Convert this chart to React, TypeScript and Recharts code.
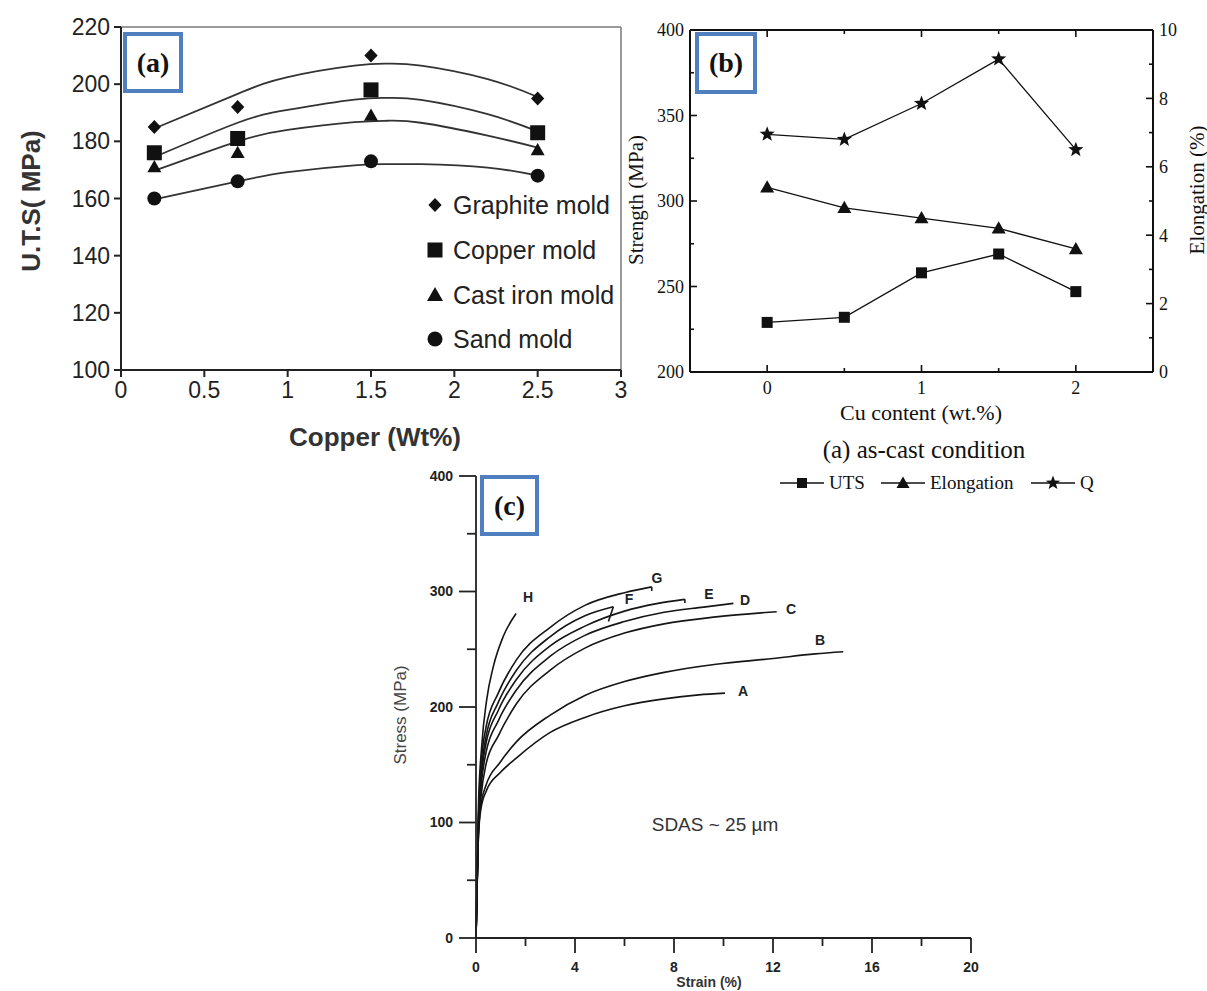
import React from 'react';
import { ComposedChart, LineChart, Line, Scatter, XAxis, YAxis, ReferenceLine } from 'recharts';

// (a) U.T.S vs copper content for four mold types
const moldCu = [0.2, 0.7, 1.5, 2.5];
const graphiteUts = [185, 192, 210, 195];
const copperUts = [176, 181, 198, 183];
const castIronUts = [171, 176, 189, 177];
const sandUts = [160, 166, 173, 168];

// trend curves, read along the drawn fits
const fitCu = [0.2, 0.7, 1.0, 1.4, 1.6, 1.8, 2.2, 2.5];
const graphiteFit = [184.5, 196.6, 202.5, 206.5, 207.2, 206.5, 201.8, 195.5];
const copperFit = [174.5, 186.5, 191, 194.6, 195.2, 194.5, 189.5, 183.5];
const castIronFit = [169.7, 180, 184, 186.7, 187.2, 186.5, 182, 177.8];
const sandFit = [159.7, 166, 169.2, 171.6, 172, 172, 170.8, 168];

const utsTicks = [100, 120, 140, 160, 180, 200, 220];
const copperTicks = [0, 0.5, 1, 1.5, 2, 2.5, 3];

// (b) as-cast condition
const cuContent = [0, 0.5, 1, 1.5, 2];
const utsMpa = [229, 232, 258, 269, 247];
const elongationPct = [5.4, 4.8, 4.5, 4.2, 3.6];
const qMpa = [339, 336, 357, 383, 330];

const strengthTicks = [200, 225, 250, 275, 300, 325, 350, 375, 400];
const elongTicks = [0, 1, 2, 3, 4, 5, 6, 7, 8, 9, 10];
const cuTicks = [0, 0.5, 1, 1.5, 2];

// (c) stress-strain curves, [strain %, stress MPa]
const curveA: number[][] = [[0, 0], [0.1, 88], [0.2, 112], [0.43, 128], [0.97, 143], [1.64, 156], [3.0, 178], [4.4, 191], [6.0, 201], [7.6, 207], [9.0, 210.5], [10.06, 212]];
const curveB: number[][] = [[0, 0], [0.1, 90], [0.2, 115], [0.4, 132], [0.97, 152], [1.64, 170], [3.0, 193], [4.4, 210], [6.0, 222], [7.6, 230], [9.7, 237], [12.0, 242], [13.7, 246], [14.84, 247.8]];
const curveC: number[][] = [[0, 0], [0.1, 95], [0.2, 122], [0.4, 150], [0.9, 175], [1.64, 203], [3.0, 232], [4.4, 251], [6.0, 264], [7.6, 272], [9.7, 278], [12.15, 282.5]];
const curveD: number[][] = [[0, 0], [0.1, 98], [0.2, 130], [0.4, 160], [0.9, 188], [1.64, 215], [3.0, 244], [4.4, 262], [6.0, 274], [7.6, 282], [9.2, 286.5], [10.4, 289.7]];
const curveE: number[][] = [[0, 0], [0.1, 100], [0.2, 135], [0.4, 168], [0.9, 197], [1.64, 224], [3.0, 253], [4.4, 270], [6.0, 283], [7.3, 289.5], [8.44, 293.2]];
const curveF: number[][] = [[0, 0], [0.1, 102], [0.2, 140], [0.4, 174], [0.9, 204], [1.64, 232], [3.0, 261], [4.4, 279], [5.55, 286.8]];
const curveG: number[][] = [[0, 0], [0.1, 105], [0.2, 148], [0.4, 182], [0.9, 212], [1.64, 241], [3.0, 269], [4.4, 288], [6.0, 299], [7.1, 304]];
const curveH: number[][] = [[0, 0], [0.1, 115], [0.23, 166], [0.43, 206], [0.7, 235], [1.1, 261], [1.62, 281]];
// fracture drops at the ends of E, F, G
const dropE: number[][] = [[8.44, 293.2], [8.44, 290]];
const dropF: number[][] = [[5.55, 286.8], [5.35, 274]];
const dropG: number[][] = [[7.1, 304], [7.1, 300.5]];

const stressTicks = [0, 50, 100, 150, 200, 250, 300, 350, 400];
const strainTicks = [0, 2, 4, 6, 8, 10, 12, 14, 16, 18, 20];

const SANS = '"Liberation Sans", Arial, Helvetica, sans-serif';
const SERIF = '"Liberation Serif", "Times New Roman", Times, serif';
const BOX_BLUE = '#4f7fbf';

const pairs = (xs: number[], ys: number[]) => xs.map((x, i) => ({ x, y: ys[i] }));
const fromPts = (pts: number[][]) => pts.map(([x, y]) => ({ x, y }));

type Mark = 'diamond' | 'square' | 'triangle' | 'circle' | 'star';

function marker(kind: Mark, cx: number, cy: number, s: number, fill = '#111') {
  const h = s / 2;
  if (kind === 'diamond')
    return <polygon points={`${cx},${cy - h} ${cx + h * 0.95},${cy} ${cx},${cy + h} ${cx - h * 0.95},${cy}`} fill={fill} />;
  if (kind === 'square') return <rect x={cx - h} y={cy - h} width={s} height={s} fill={fill} />;
  if (kind === 'triangle')
    return <polygon points={`${cx},${cy - h} ${cx + h},${cy + h * 0.75} ${cx - h},${cy + h * 0.75}`} fill={fill} />;
  if (kind === 'circle') return <circle cx={cx} cy={cy} r={h} fill={fill} />;
  const p: string[] = [];
  for (let i = 0; i < 10; i++) {
    const r = i % 2 ? h * 0.42 : h;
    const a = -Math.PI / 2 + (i * Math.PI) / 5;
    p.push(`${cx + r * Math.cos(a)},${cy + r * Math.sin(a)}`);
  }
  return <polygon points={p.join(' ')} fill={fill} />;
}

type TickOpts = {
  side: 'left' | 'right' | 'bottom' | 'top';
  inward?: boolean;
  isMajor: (v: number) => boolean;
  majorLen: number;
  minorLen: number;
  gap: number;
  font: string;
  size: number;
  weight?: string;
  color: string;
  stroke: string;
  strokeWidth: number;
  noLabels?: boolean;
};

// ticks are drawn by hand (tickSize/tickMargin 0) so they can point inward and have minor ticks
const makeTick = (o: TickOpts) => (props: any) => {
  const { x, y, payload } = props;
  const v = payload.value as number;
  const major = o.isMajor(v);
  const len = major ? o.majorLen : o.minorLen;
  const dir = o.inward ? -1 : 1;
  const outer = o.inward ? 0 : len;
  const showLabel = major && !o.noLabels;
  const tp = { fontFamily: o.font, fontSize: o.size, fontWeight: o.weight || 'normal', fill: o.color };
  const ln = { stroke: o.stroke, strokeWidth: o.strokeWidth };
  if (o.side === 'left')
    return (
      <g>
        <line x1={x} y1={y} x2={x - dir * len} y2={y} {...ln} />
        {showLabel && <text x={x - outer - o.gap} y={y} dy="0.35em" textAnchor="end" {...tp}>{v}</text>}
      </g>
    );
  if (o.side === 'right')
    return (
      <g>
        <line x1={x} y1={y} x2={x + dir * len} y2={y} {...ln} />
        {showLabel && <text x={x + outer + o.gap} y={y} dy="0.35em" textAnchor="start" {...tp}>{v}</text>}
      </g>
    );
  if (o.side === 'top')
    return (
      <g>
        <line x1={x} y1={y} x2={x} y2={y - dir * len} {...ln} />
      </g>
    );
  return (
    <g>
      <line x1={x} y1={y} x2={x} y2={y + dir * len} {...ln} />
      {showLabel && <text x={x} y={y + outer + o.gap} dy="0.71em" textAnchor="middle" {...tp}>{v}</text>}
    </g>
  );
};

const Txt = ({ x, y, rot, style, children }: { x: number; y: number; rot?: number; style?: React.CSSProperties; children: React.ReactNode }) => (
  <div
    style={{
      position: 'absolute',
      left: x,
      top: y,
      transform: `translate(-50%, -50%)${rot ? ` rotate(${rot}deg)` : ''}`,
      whiteSpace: 'nowrap',
      lineHeight: 1,
      ...style,
    }}
  >
    {children}
  </div>
);

const PanelTag = ({ left, top, w, h, label }: { left: number; top: number; w: number; h: number; label: string }) => (
  <div
    style={{
      position: 'absolute',
      left,
      top,
      width: w,
      height: h,
      boxSizing: 'border-box',
      border: `4px solid ${BOX_BLUE}`,
      display: 'flex',
      alignItems: 'center',
      justifyContent: 'center',
      fontFamily: SERIF,
      fontWeight: 'bold',
      fontSize: 28,
      color: '#111',
      background: '#fff',
    }}
  >
    {label}
  </div>
);

const isInt = (v: number) => Math.abs(v - Math.round(v)) < 1e-9;

const PanelA = () => {
  const fits = [graphiteFit, copperFit, castIronFit, sandFit];
  const pts: [number[], Mark, number][] = [
    [graphiteUts, 'diamond', 14],
    [copperUts, 'square', 15],
    [castIronUts, 'triangle', 14],
    [sandUts, 'circle', 14],
  ];
  const common = { font: SANS, size: 23, color: '#222', stroke: '#222', strokeWidth: 2, isMajor: () => true };
  return (
    <div style={{ position: 'absolute', left: 0, top: 0 }}>
      <ComposedChart width={640} height={470} margin={{ top: 27, right: 19, bottom: 0, left: 0 }}>
        <XAxis
          dataKey="x"
          type="number"
          domain={[0, 3]}
          ticks={copperTicks}
          interval={0}
          height={100}
          tickSize={0}
          tickMargin={0}
          tickLine={false}
          axisLine={{ stroke: '#222', strokeWidth: 2 }}
          tick={makeTick({ ...common, side: 'bottom', majorLen: 7, minorLen: 7, gap: 5 })}
        />
        <YAxis
          dataKey="y"
          type="number"
          domain={[100, 220]}
          ticks={utsTicks}
          interval={0}
          width={121}
          tickSize={0}
          tickMargin={0}
          tickLine={false}
          axisLine={{ stroke: '#222', strokeWidth: 2 }}
          tick={makeTick({ ...common, side: 'left', majorLen: 7, minorLen: 7, gap: 4 })}
        />
        {/* grey frame on top and right */}
        <ReferenceLine y={220} stroke="#9a9a9a" strokeWidth={2} />
        <ReferenceLine x={3} stroke="#9a9a9a" strokeWidth={2} />
        {fits.map((f, i) => (
          <Line key={`fit${i}`} data={pairs(fitCu, f)} dataKey="y" type="natural" stroke="#333" strokeWidth={1.8} dot={false} isAnimationActive={false} />
        ))}
        {pts.map(([vals, kind, s], i) => (
          <Scatter
            key={`pt${i}`}
            data={pairs(moldCu, vals)}
            dataKey="y"
            isAnimationActive={false}
            shape={(p: any) => marker(kind, p.cx, p.cy, s)}
          />
        ))}
      </ComposedChart>
    </div>
  );
};

const PanelB = () => {
  const rows = cuContent.map((x, i) => ({ x, uts: utsMpa[i], el: elongationPct[i], q: qMpa[i] }));
  const common = { font: SERIF, size: 18, color: '#111', stroke: '#111', strokeWidth: 1.6, majorLen: 7, minorLen: 4, inward: true };
  const dot = (kind: Mark, s: number) => (p: any) => <g key={`${kind}${p.index}`}>{marker(kind, p.cx, p.cy, s)}</g>;
  return (
    <div style={{ position: 'absolute', left: 620, top: 0 }}>
      <LineChart width={587} height={420} data={rows} margin={{ top: 29, right: 0, bottom: 0, left: 0 }}>
        <XAxis
          dataKey="x"
          type="number"
          domain={[-0.5, 2.5]}
          ticks={cuTicks}
          interval={0}
          height={48}
          tickSize={0}
          tickMargin={0}
          tickLine={false}
          axisLine={{ stroke: '#111', strokeWidth: 2 }}
          tick={makeTick({ ...common, side: 'bottom', isMajor: isInt, gap: 9 })}
        />
        <XAxis
          xAxisId="top"
          orientation="top"
          dataKey="x"
          type="number"
          domain={[-0.5, 2.5]}
          ticks={cuTicks}
          interval={0}
          height={1}
          tickSize={0}
          tickMargin={0}
          tickLine={false}
          axisLine={{ stroke: '#111', strokeWidth: 2 }}
          tick={makeTick({ ...common, side: 'top', isMajor: isInt, gap: 0, noLabels: true })}
        />
        <YAxis
          yAxisId="s"
          type="number"
          domain={[200, 400]}
          ticks={strengthTicks}
          interval={0}
          width={70}
          tickSize={0}
          tickMargin={0}
          tickLine={false}
          axisLine={{ stroke: '#111', strokeWidth: 2 }}
          tick={makeTick({ ...common, side: 'left', isMajor: (v) => v % 50 === 0, gap: 6 })}
        />
        <YAxis
          yAxisId="e"
          orientation="right"
          type="number"
          domain={[0, 10]}
          ticks={elongTicks}
          interval={0}
          width={54}
          tickSize={0}
          tickMargin={0}
          tickLine={false}
          axisLine={{ stroke: '#111', strokeWidth: 2 }}
          tick={makeTick({ ...common, side: 'right', isMajor: (v) => v % 2 === 0, gap: 6 })}
        />
        <ReferenceLine yAxisId="s" y={400} stroke="#111" strokeWidth={2} />
        {/* carries the top frame axis; draws nothing */}
        <Line xAxisId="top" yAxisId="s" dataKey="uts" stroke="none" dot={false} activeDot={false} isAnimationActive={false} />
        <Line yAxisId="s" dataKey="uts" type="linear" stroke="#111" strokeWidth={1.3} dot={dot('square', 11)} isAnimationActive={false} />
        <Line yAxisId="e" dataKey="el" type="linear" stroke="#111" strokeWidth={1.3} dot={dot('triangle', 14)} isAnimationActive={false} />
        <Line yAxisId="s" dataKey="q" type="linear" stroke="#111" strokeWidth={1.3} dot={dot('star', 16)} isAnimationActive={false} />
      </LineChart>
    </div>
  );
};

const LegendItemB = ({ left, kind, s, label }: { left: number; kind: Mark; s: number; label: string }) => (
  <div style={{ position: 'absolute', left, top: 473, height: 20, display: 'flex', alignItems: 'center' }}>
    <svg width={46} height={20}>
      <line x1={1} y1={10} x2={45} y2={10} stroke="#111" strokeWidth={1.3} />
      {marker(kind, 23, 10, s)}
    </svg>
    <span style={{ fontFamily: SERIF, fontSize: 19, color: '#111', marginLeft: 4 }}>{label}</span>
  </div>
);

const LegendItemA = ({ top, kind, s, label }: { top: number; kind: Mark; s: number; label: string }) => (
  <div style={{ position: 'absolute', left: 425, top: top - 15, height: 30, display: 'flex', alignItems: 'center' }}>
    <svg width={20} height={30}>{marker(kind, 10, 15, s)}</svg>
    <span style={{ fontFamily: SANS, fontSize: 25, color: '#222', marginLeft: 8 }}>{label}</span>
  </div>
);

const PanelC = () => {
  const curves = [curveA, curveB, curveC, curveD, curveE, curveF, curveG, curveH];
  const drops = [dropE, dropF, dropG];
  const common = { font: SANS, size: 14, weight: 'bold', color: '#222', stroke: '#222', strokeWidth: 1.8 };
  return (
    <div style={{ position: 'absolute', left: 380, top: 460 }}>
      <LineChart width={620} height={531} margin={{ top: 16, right: 29, bottom: 0, left: 0 }}>
        <XAxis
          dataKey="x"
          type="number"
          domain={[0, 20]}
          ticks={strainTicks}
          interval={0}
          height={53}
          tickSize={0}
          tickMargin={0}
          tickLine={false}
          axisLine={{ stroke: '#222', strokeWidth: 1.8 }}
          tick={makeTick({ ...common, side: 'bottom', isMajor: (v) => v % 4 === 0, majorLen: 15, minorLen: 8, gap: 9 })}
        />
        <YAxis
          dataKey="y"
          type="number"
          domain={[0, 400]}
          ticks={stressTicks}
          interval={0}
          width={96}
          tickSize={0}
          tickMargin={0}
          tickLine={false}
          axisLine={{ stroke: '#222', strokeWidth: 1.8 }}
          tick={makeTick({ ...common, side: 'left', isMajor: (v) => v % 100 === 0, majorLen: 17, minorLen: 9, gap: 6 })}
        />
        {curves.map((c, i) => (
          <Line key={`c${i}`} data={fromPts(c)} dataKey="y" type="monotone" stroke="#151515" strokeWidth={1.6} dot={false} isAnimationActive={false} />
        ))}
        {drops.map((c, i) => (
          <Line key={`d${i}`} data={fromPts(c)} dataKey="y" type="linear" stroke="#151515" strokeWidth={1.6} dot={false} isAnimationActive={false} />
        ))}
      </LineChart>
    </div>
  );
};

const curveLetter: React.CSSProperties = { fontFamily: SANS, fontWeight: 'bold', fontSize: 14, color: '#222' };

export default function App() {
  return (
    <div style={{ position: 'absolute', left: 0, top: 0, width: 1207, height: 991, background: '#fff', overflow: 'hidden' }}>
      <PanelA />
      <PanelB />
      <PanelC />

      {/* (a) titles and legend */}
      <Txt x={31} y={201} rot={-90} style={{ fontFamily: SANS, fontWeight: 'bold', fontSize: 26, color: '#333' }}>U.T.S( MPa)</Txt>
      <Txt x={375} y={437} style={{ fontFamily: SANS, fontWeight: 'bold', fontSize: 26, color: '#333' }}>Copper (Wt%)</Txt>
      <LegendItemA top={205} kind="diamond" s={14} label="Graphite mold" />
      <LegendItemA top={250} kind="square" s={15} label="Copper mold" />
      <LegendItemA top={295} kind="triangle" s={16} label="Cast iron mold" />
      <LegendItemA top={339} kind="circle" s={15} label="Sand mold" />
      <PanelTag left={123} top={32} w={60} h={61} label="(a)" />

      {/* (b) titles and legend */}
      <Txt x={636} y={200} rot={-90} style={{ fontFamily: SERIF, fontSize: 21, color: '#111' }}>Strength (MPa)</Txt>
      <Txt x={1197} y={190} rot={-90} style={{ fontFamily: SERIF, fontSize: 21, color: '#111' }}>Elongation (%)</Txt>
      <Txt x={921} y={413} style={{ fontFamily: SERIF, fontSize: 22, color: '#111' }}>Cu content (wt.%)</Txt>
      <Txt x={924} y={449} style={{ fontFamily: SERIF, fontSize: 25, color: '#111' }}>(a) as-cast condition</Txt>
      <LegendItemB left={779} kind="square" s={10} label="UTS" />
      <LegendItemB left={880} kind="triangle" s={13} label="Elongation" />
      <LegendItemB left={1030} kind="star" s={15} label="Q" />
      <PanelTag left={695} top={32} w={62} h={62} label="(b)" />

      {/* (c) titles, curve labels */}
      <Txt x={400} y={715} rot={-90} style={{ fontFamily: SANS, fontSize: 17, color: '#444' }}>Stress (MPa)</Txt>
      <Txt x={709} y={982} style={{ fontFamily: SANS, fontWeight: 'bold', fontSize: 14, color: '#333' }}>Strain (%)</Txt>
      <Txt x={715} y={824} style={{ fontFamily: SANS, fontSize: 19, color: '#333' }}>SDAS ~ 25 µm</Txt>
      <Txt x={528} y={597} style={curveLetter}>H</Txt>
      <Txt x={657} y={578} style={curveLetter}>G</Txt>
      <Txt x={629} y={599} style={curveLetter}>F</Txt>
      <Txt x={709} y={594} style={curveLetter}>E</Txt>
      <Txt x={745} y={600} style={curveLetter}>D</Txt>
      <Txt x={791} y={609} style={curveLetter}>C</Txt>
      <Txt x={820} y={640} style={curveLetter}>B</Txt>
      <Txt x={743} y={691} style={curveLetter}>A</Txt>
      <PanelTag left={480} top={475} w={59} h={61} label="(c)" />
    </div>
  );
}
